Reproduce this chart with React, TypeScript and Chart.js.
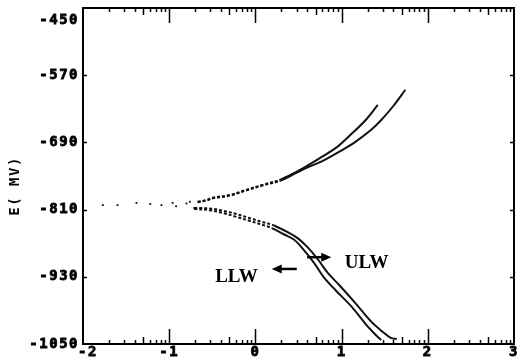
import { useEffect, useRef } from "react";
import { Chart, registerables } from "chart.js";

Chart.register(...registerables);

// Axis ticks
const xTicks = [-2, -1, 0, 1, 2, 3];
const yTicks = [-450, -570, -690, -810, -930, -1050];

// Scattered readings around the corrosion potential
const ecorrX = [-1.77, -1.6, -1.38, -1.22, -1.09, -0.96, -0.92, -0.8, -0.76, -0.71];
const ecorrY = [-802, -802, -798, -800, -802, -798, -804, -799, -796, -807];

// Anodic branches
const llwAnodicX = [-0.67, -0.57, -0.5, -0.3, -0.11, 0.08, 0.28, 0.47, 0.6, 0.77, 0.95, 1.08, 1.28, 1.42];
const llwAnodicY = [-796, -793, -789, -784, -775, -766, -757, -743, -732, -716, -698, -680, -650, -623];
const ulwAnodicX = [-0.67, -0.57, -0.5, -0.3, -0.11, 0.08, 0.28, 0.47, 0.6, 0.77, 0.97, 1.16, 1.34, 1.46, 1.6, 1.74];
const ulwAnodicY = [-797, -794, -790, -785, -776, -767, -759, -745, -735, -724, -707, -689, -668, -650, -625, -596];

// Cathodic branches
const llwCathodicX = [-0.71, -0.53, -0.38, -0.22, -0.07, 0.08, 0.19, 0.33, 0.45, 0.56, 0.68, 0.79, 0.93, 1.12, 1.31, 1.41, 1.46];
const llwCathodicY = [-809, -811, -816, -823, -830, -837, -843, -854, -864, -882, -905, -930, -954, -984, -1020, -1036, -1043];
const ulwCathodicX = [-0.71, -0.53, -0.38, -0.22, -0.07, 0.08, 0.21, 0.37, 0.49, 0.61, 0.73, 0.84, 0.98, 1.16, 1.35, 1.49, 1.57, 1.64];
const ulwCathodicY = [-807, -808, -812, -818, -825, -832, -838, -850, -861, -878, -900, -923, -946, -977, -1011, -1030, -1039, -1041];

// Curve labels and their arrows
const noteText = ["LLW", "ULW"];
const noteX = [-0.22, 1.29];
const noteY = [-930, -905];
const arrowFromX = [0.48, 0.6];
const arrowToX = [0.19, 0.88];
const arrowY = [-916, -895];

const INK = "#111";
const tickFont = { family: "'DejaVu Sans Mono', monospace", weight: "bold" as const, size: 14, lineHeight: 0.85 };

const pts = (xs: number[], ys: number[]) => xs.map((v, i) => ({ x: v, y: ys[i] }));

const curve = (label: string, xs: number[], ys: number[]) => ({
  label,
  data: pts(xs, ys),
  showLine: true,
  borderColor: INK,
  borderWidth: 2,
  pointRadius: 0,
  tension: 0.35,
  segment: {
    borderDash: (ctx: any) => (ctx.p0.parsed.x < 0.1 ? [3, 2] : undefined),
  },
});

const framePlugin = {
  id: "frame",
  beforeDraw(chart: any) {
    chart.ctx.letterSpacing = "1.5px";
  },
  afterDatasetsDraw(chart: any) {
    const { ctx, chartArea: a, scales } = chart;
    const x = scales.x;
    const y = scales.y;
    ctx.save();
    ctx.strokeStyle = "#000";
    ctx.lineWidth = 2;
    ctx.strokeRect(a.left, a.top, a.right - a.left, a.bottom - a.top);
    ctx.lineWidth = 1.5;
    ctx.beginPath();
    for (let k = xTicks[0]; k < xTicks[xTicks.length - 1]; k++) {
      for (let n = 2; n <= 9; n++) {
        const px = Math.round(x.getPixelForValue(k + Math.log10(n))) + 0.5;
        const h = n === 5 ? 7 : 4;
        ctx.moveTo(px, a.bottom);
        ctx.lineTo(px, a.bottom - h);
        ctx.moveTo(px, a.top);
        ctx.lineTo(px, a.top + h);
      }
      if (k > xTicks[0]) {
        const px = Math.round(x.getPixelForValue(k)) + 0.5;
        ctx.moveTo(px, a.bottom);
        ctx.lineTo(px, a.bottom - 15);
        ctx.moveTo(px, a.top);
        ctx.lineTo(px, a.top + 15);
      }
    }
    yTicks.slice(1, -1).forEach((v) => {
      const py = Math.round(y.getPixelForValue(v)) + 0.5;
      ctx.moveTo(a.left, py);
      ctx.lineTo(a.left + 4, py);
      ctx.moveTo(a.right, py);
      ctx.lineTo(a.right - 4, py);
    });
    ctx.stroke();
    ctx.restore();
  },
  afterDraw(chart: any) {
    const { ctx, scales } = chart;
    const x = scales.x;
    const y = scales.y;
    ctx.save();
    ctx.letterSpacing = "0px";
    ctx.fillStyle = "#000";
    ctx.strokeStyle = "#000";
    ctx.font = "bold 19px 'Liberation Serif', 'Times New Roman', serif";
    ctx.textAlign = "center";
    ctx.textBaseline = "middle";
    noteText.forEach((t, i) => {
      ctx.fillText(t, x.getPixelForValue(noteX[i]), y.getPixelForValue(noteY[i]));
    });
    arrowFromX.forEach((fx, i) => {
      const x0 = x.getPixelForValue(fx);
      const x1 = x.getPixelForValue(arrowToX[i]);
      const py = y.getPixelForValue(arrowY[i]);
      const dir = Math.sign(x1 - x0);
      ctx.lineWidth = 2.5;
      ctx.beginPath();
      ctx.moveTo(x0, py);
      ctx.lineTo(x1 - dir * 6, py);
      ctx.stroke();
      ctx.beginPath();
      ctx.moveTo(x1, py);
      ctx.lineTo(x1 - dir * 10, py - 4.5);
      ctx.lineTo(x1 - dir * 10, py + 4.5);
      ctx.closePath();
      ctx.fill();
    });
    ctx.restore();
  },
};

export default function App() {
  const canvasRef = useRef<HTMLCanvasElement | null>(null);

  useEffect(() => {
    if (!canvasRef.current) return;
    const chart = new Chart(canvasRef.current, {
      type: "scatter",
      data: {
        datasets: [
          {
            label: "Ecorr",
            data: pts(ecorrX, ecorrY),
            pointStyle: "rect",
            pointRadius: 1.3,
            pointBackgroundColor: INK,
            pointBorderWidth: 0,
            showLine: false,
          },
          curve("LLW anodic", llwAnodicX, llwAnodicY),
          curve("ULW anodic", ulwAnodicX, ulwAnodicY),
          curve("LLW cathodic", llwCathodicX, llwCathodicY),
          curve("ULW cathodic", ulwCathodicX, ulwCathodicY),
        ] as any,
      },
      options: {
        animation: false,
        responsive: true,
        maintainAspectRatio: false,
        layout: { padding: { left: 0, top: 8, right: 2, bottom: 0 } },
        plugins: { legend: { display: false }, tooltip: { enabled: false } },
        scales: {
          x: {
            type: "linear",
            min: xTicks[0],
            max: xTicks[xTicks.length - 1],
            afterBuildTicks: (s: any) => {
              s.ticks = xTicks.map((v) => ({ value: v }));
            },
            afterFit: (s: any) => {
              s.height = 17;
              s.paddingLeft = 0;
              s.paddingRight = 0;
            },
            grid: { display: false, drawTicks: false },
            border: { display: false },
            ticks: {
              padding: 2,
              color: "#000",
              font: tickFont,
              textStrokeColor: "#000",
              textStrokeWidth: 0.8,
              maxRotation: 0,
              autoSkip: false,
              callback: (v: any) => (v === xTicks[0] ? " " + v : String(v)),
            },
          },
          y: {
            type: "linear",
            min: yTicks[yTicks.length - 1],
            max: yTicks[0],
            afterBuildTicks: (s: any) => {
              s.ticks = yTicks.map((v) => ({ value: v }));
            },
            afterFit: (s: any) => {
              s.width = 83;
              s.paddingTop = 0;
              s.paddingBottom = 0;
            },
            grid: { display: false, drawTicks: false },
            border: { display: false },
            ticks: {
              padding: 4,
              color: "#000",
              font: tickFont,
              textStrokeColor: "#000",
              textStrokeWidth: 0.8,
              autoSkip: false,
              callback: (v: any) => (v === yTicks[0] ? ["", "", String(v)] : String(v)),
            },
            title: {
              display: true,
              text: "E( MV)  ",
              color: "#000",
              font: { family: "'DejaVu Sans Mono', monospace", weight: "bold", size: 14 },
              padding: { top: 7, bottom: 0 },
            },
          },
        },
      },
      plugins: [framePlugin],
    });
    return () => chart.destroy();
  }, []);

  return (
    <div style={{ position: "absolute", left: 0, top: 0, width: 518, height: 361, background: "#fff" }}>
      <canvas ref={canvasRef} />
    </div>
  );
}
